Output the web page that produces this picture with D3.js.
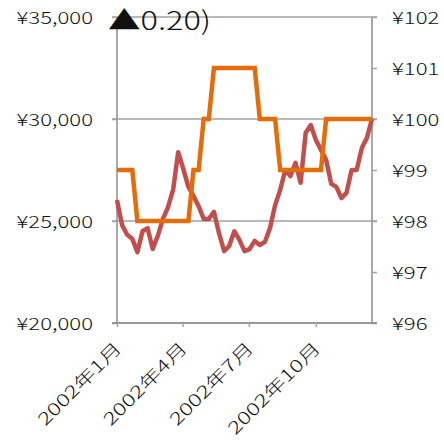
<!DOCTYPE html>
<html>
<head>
<meta charset="utf-8">
<script src="https://cdn.jsdelivr.net/npm/d3@7"></script>
<style>
  body { margin: 0; background: #fff; }
  text { font-family: "Noto Sans CJK JP", "Noto Sans", sans-serif; font-weight: 300; fill: #111; }
</style>
</head>
<body>
<svg id="chart" width="444" height="447"></svg>
<script>
// Weekly observations, 2002 (one per Tuesday, Jan 1 – Dec 17)
const weeks = d3.timeTuesday.range(new Date(2002, 0, 1), new Date(2002, 11, 18));

// Stepped price series (left axis, yen)
const stepPrice = [
  27500, 27500, 27500, 27500,
  25000, 25000, 25000, 25000, 25000, 25000, 25000, 25000, 25000, 25000, 25000,
  27500, 27500,
  30000, 30000,
  32500, 32500, 32500, 32500, 32500, 32500, 32500, 32500, 32500,
  30000, 30000, 30000, 30000,
  27500, 27500, 27500, 27500, 27500, 27500, 27500, 27500, 27500,
  30000, 30000, 30000, 30000, 30000, 30000, 30000, 30000, 30000, 30000
];

// Fluctuating price series (right axis, yen)
const linePrice = [
  98.41, 97.92, 97.73, 97.65, 97.39, 97.80, 97.86, 97.45, 97.71, 98.04,
  98.27, 98.61, 99.35, 99.02, 98.67, 98.49, 98.29, 98.04, 98.04, 98.18,
  97.76, 97.41, 97.51, 97.80, 97.63, 97.41, 97.45, 97.61, 97.53, 97.59,
  97.86, 98.31, 98.61, 99.00, 98.88, 99.14, 98.75, 99.73, 99.88, 99.59,
  99.39, 99.20, 98.73, 98.67, 98.45, 98.55, 99.00, 99.00, 99.43, 99.63,
  100.00
];

const leftTicks = [20000, 25000, 30000, 35000];
const rightTicks = [96, 97, 98, 99, 100, 101, 102];
const monthTicks = [new Date(2002, 0, 1), new Date(2002, 3, 1), new Date(2002, 6, 1), new Date(2002, 9, 1)];
const titleText = "▲0.20)";

const svg = d3.select("#chart");
const plot = { left: 117, right: 372, top: 17, bottom: 323 };
const widen = 1.3; // horizontal stretch for the wide label face

const x = d3.scaleTime().domain([weeks[0], weeks[weeks.length - 1]]).range([plot.left, plot.right]);
const yL = d3.scaleLinear().domain([20000, 35000]).range([plot.bottom, plot.top]);
const yR = d3.scaleLinear().domain([96, 102]).range([plot.bottom, plot.top]);

function stretch(sel, factor) {
  sel.each(function () {
    const w = this.getComputedTextLength();
    d3.select(this).attr("textLength", w * factor).attr("lengthAdjust", "spacingAndGlyphs");
  });
}

// Horizontal gridlines
svg.append("g")
  .selectAll("line")
  .data(leftTicks)
  .join("line")
  .attr("x1", plot.left - 5).attr("x2", plot.right + 5)
  .attr("y1", d => yL(d)).attr("y2", d => yL(d))
  .attr("stroke", "#a3a3a3").attr("stroke-width", 1.5);

// Left axis
const gL = svg.append("g").attr("transform", `translate(${plot.left},0)`)
  .call(d3.axisLeft(yL).tickValues(leftTicks).tickSize(5).tickPadding(19)
    .tickFormat(d => "¥" + d3.format(",")(d)));
gL.select(".domain").attr("stroke", "#8c8c8c").attr("stroke-width", 1.5).attr("d", `M0,${plot.top}V${plot.bottom}`);
gL.selectAll(".tick line").attr("stroke", "#a3a3a3").attr("stroke-width", 1.5);
gL.selectAll("text").attr("font-size", 17).attr("dy", "0.38em").attr("fill", "#111").call(stretch, widen);

// Right axis
const gR = svg.append("g").attr("transform", `translate(${plot.right},0)`)
  .call(d3.axisRight(yR).tickValues(rightTicks).tickSize(5).tickPadding(15)
    .tickFormat(d => "¥" + d));
gR.select(".domain").attr("stroke", "#8c8c8c").attr("stroke-width", 1.5).attr("d", `M0,${plot.top}V${plot.bottom}`);
gR.selectAll(".tick line").attr("stroke", "#a3a3a3").attr("stroke-width", 1.5);
gR.selectAll("text").attr("font-size", 17).attr("dy", "0.38em").attr("fill", "#111").call(stretch, widen);

// Bottom axis
const gB = svg.append("g").attr("transform", `translate(0,${plot.bottom})`)
  .call(d3.axisBottom(x).tickValues(monthTicks).tickSize(4)
    .tickFormat(d => d3.timeFormat("%Y")(d) + "年" + (d.getMonth() + 1) + "月"));
gB.select(".domain").attr("stroke", "#8c8c8c").attr("stroke-width", 1.5).attr("d", `M${plot.left - 5},0H${plot.right + 5}`);
gB.selectAll(".tick line").attr("stroke", "#a3a3a3").attr("stroke-width", 1.5);
gB.selectAll("text")
  .attr("font-size", 17).attr("fill", "#111")
  .attr("x", 0).attr("y", 0).attr("dy", "0.35em")
  .attr("text-anchor", "end")
  .attr("transform", "translate(1,22) rotate(-45)")
  .call(stretch, 1.38);

// Series lines
const redLine = d3.line().x((d, i) => x(weeks[i])).y(d => yR(d));
const orangeLine = d3.line().x((d, i) => x(weeks[i])).y(d => yL(d));

svg.append("path").datum(linePrice)
  .attr("d", redLine)
  .attr("fill", "none").attr("stroke", "#c0504d").attr("stroke-width", 4.5)
  .attr("stroke-linejoin", "round");

svg.append("path").datum(stepPrice)
  .attr("d", orangeLine)
  .attr("fill", "none").attr("stroke", "#e46c0a").attr("stroke-width", 4.5)
  .attr("stroke-linejoin", "miter");

// Title
svg.append("text")
  .attr("x", 108).attr("y", 29.5)
  .attr("font-size", 26).attr("fill", "#000")
  .text(titleText)
  .call(stretch, 1.25);
</script>
</body>
</html>
